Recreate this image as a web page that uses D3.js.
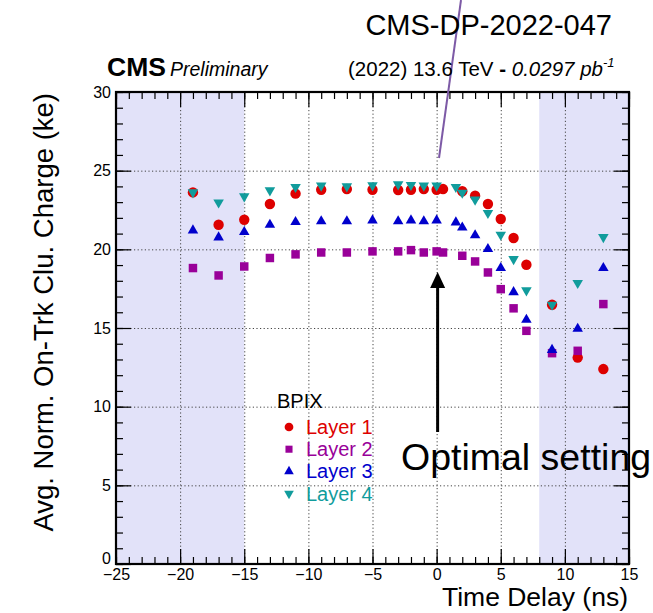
<!DOCTYPE html>
<html>
<head>
<meta charset="utf-8">
<script src="https://cdn.jsdelivr.net/npm/d3@7"></script>
<style>
  html, body { margin: 0; padding: 0; background: #fff; }
  svg { display: block; font-family: 'Liberation Sans', Arial, Helvetica, sans-serif; }
</style>
</head>
<body>
<div id="chart"></div>
<script>
// Timing scan, BPIX layers: average normalised on-track cluster charge vs delay
const delaysL12 = [-19, -17, -15, -13, -11, -9, -7, -5, -3, -2, -1, 0, 0.5, 2, 3, 4, 5, 6, 7, 9, 11, 13];
const delaysL34 = [-19, -17, -15, -13, -11, -9, -7, -5, -3, -2, -1, 0, 1.5, 2, 3, 4, 5, 6, 7, 9, 11, 13];

const layer1 = [23.62, 21.56, 21.88, 22.88, 23.54, 23.79, 23.83, 23.79, 23.77, 23.79, 23.83, 23.79, 23.83, 23.69, 23.41, 22.88, 21.93, 20.72, 19.02, 16.48, 13.12, 12.39];
const layer2 = [18.81, 18.34, 18.91, 19.45, 19.68, 19.80, 19.80, 19.87, 19.87, 19.95, 19.80, 19.87, 19.80, 19.59, 19.23, 18.53, 17.47, 16.25, 14.82, 13.40, 13.55, 16.52];
const layer3 = [21.20, 20.76, 21.10, 21.56, 21.74, 21.78, 21.78, 21.84, 21.78, 21.84, 21.78, 21.84, 21.71, 21.39, 20.89, 20.02, 18.81, 17.28, 15.52, 13.61, 14.95, 18.81];
const layer4 = [23.62, 22.98, 23.37, 23.75, 23.96, 24.05, 24.00, 24.07, 24.13, 24.09, 24.05, 24.05, 23.96, 23.60, 23.16, 22.31, 20.93, 19.38, 17.39, 16.48, 17.86, 20.78];

const layerNames = ['Layer 1', 'Layer 2', 'Layer 3', 'Layer 4'];
const layerColors = ['#dd0000', '#990099', '#0000cc', '#119c9c'];
const layerShapes = ['circle', 'square', 'triangle', 'triangleDown'];

const shadedBands = [[-25, -15], [8, 15]];
const xDomain = [-25, 15];
const yDomain = [0, 30];
const optimalDelay = 0;

(function () {
  'use strict';

  const W = 653, H = 613;
  const frame = { left: 116, right: 629, top: 92, bottom: 564 };

  const svg = d3.select('#chart').append('svg').attr('width', W).attr('height', H);

  const x = d3.scaleLinear().domain(xDomain).range([frame.left, frame.right]);
  const y = d3.scaleLinear().domain(yDomain).range([frame.bottom, frame.top]);

  // shaded (excluded) delay ranges
  svg.append('g').selectAll('rect').data(shadedBands).enter().append('rect')
    .attr('x', d => x(d[0])).attr('y', frame.top)
    .attr('width', d => x(d[1]) - x(d[0])).attr('height', frame.bottom - frame.top)
    .attr('fill', '#e2e2f9');

  // dotted grid
  const grid = svg.append('g').attr('stroke', '#444').attr('stroke-width', 1)
    .attr('stroke-dasharray', '1.2,2.4');
  grid.selectAll('.gx').data(d3.range(-20, 15, 5)).enter().append('line')
    .attr('x1', d => x(d) + 0.5).attr('x2', d => x(d) + 0.5)
    .attr('y1', frame.top).attr('y2', frame.bottom);
  grid.selectAll('.gy').data(d3.range(5, 30, 5)).enter().append('line')
    .attr('y1', d => y(d) + 0.5).attr('y2', d => y(d) + 0.5)
    .attr('x1', frame.left).attr('x2', frame.right);

  // axes: ticks point inwards on all four sides, ROOT style
  const fmt = d3.format('d');
  const majX = d3.range(-25, 16, 5), minX = d3.range(-25, 16, 1);
  const majY = d3.range(0, 31, 5), minY = d3.range(0, 31, 1);

  function styleAxis(g) {
    g.selectAll('.domain').remove();
    g.selectAll('line').attr('stroke', '#000').attr('stroke-width', 1.2);
    g.selectAll('text').attr('font-size', 16).attr('fill', '#000')
      .attr('font-family', "'Liberation Sans', Arial, sans-serif");
  }

  svg.append('g').attr('transform', `translate(0,${frame.bottom})`)
    .call(d3.axisBottom(x).tickValues(minX).tickSize(-7).tickFormat(''))
    .call(styleAxis);
  svg.append('g').attr('transform', `translate(0,${frame.bottom})`)
    .call(d3.axisBottom(x).tickValues(majX).tickSize(-15).tickPadding(5).tickFormat(fmt))
    .call(styleAxis);
  svg.append('g').attr('transform', `translate(0,${frame.top})`)
    .call(d3.axisTop(x).tickValues(minX).tickSize(-7).tickFormat(''))
    .call(styleAxis);
  svg.append('g').attr('transform', `translate(0,${frame.top})`)
    .call(d3.axisTop(x).tickValues(majX).tickSize(-15).tickFormat(''))
    .call(styleAxis);

  svg.append('g').attr('transform', `translate(${frame.left},0)`)
    .call(d3.axisLeft(y).tickValues(minY).tickSize(-7).tickFormat(''))
    .call(styleAxis);
  const yAx = svg.append('g').attr('transform', `translate(${frame.left},0)`)
    .call(d3.axisLeft(y).tickValues(majY).tickSize(-15).tickPadding(5).tickFormat(fmt))
    .call(styleAxis);
  // ROOT lifts the zero label a touch so it clears the x labels
  yAx.selectAll('.tick text').filter(d => d === 0).attr('dy', '-0.05em');
  svg.append('g').attr('transform', `translate(${frame.right},0)`)
    .call(d3.axisRight(y).tickValues(minY).tickSize(-7).tickFormat(''))
    .call(styleAxis);
  svg.append('g').attr('transform', `translate(${frame.right},0)`)
    .call(d3.axisRight(y).tickValues(majY).tickSize(-15).tickFormat(''))
    .call(styleAxis);

  // frame
  svg.append('rect')
    .attr('x', frame.left).attr('y', frame.top)
    .attr('width', frame.right - frame.left).attr('height', frame.bottom - frame.top)
    .attr('fill', 'none').attr('stroke', '#000').attr('stroke-width', 2.2);

  // markers
  const symbolFor = {
    circle: d3.symbol().type(d3.symbolCircle).size(85),
    square: d3.symbol().type(d3.symbolSquare).size(72),
    triangle: d3.symbol().type(d3.symbolTriangle).size(48),
    triangleDown: d3.symbol().type(d3.symbolTriangle).size(48)
  };
  const series = [
    { xs: delaysL12, ys: layer1 },
    { xs: delaysL12, ys: layer2 },
    { xs: delaysL34, ys: layer3 },
    { xs: delaysL34, ys: layer4 }
  ];
  series.forEach((s, k) => {
    const pts = s.xs.map((d, i) => ({ x: d, y: s.ys[i] }));
    const rot = layerShapes[k] === 'triangleDown' ? ' rotate(180)' : '';
    svg.append('g').selectAll('path').data(pts).enter().append('path')
      .attr('d', symbolFor[layerShapes[k]]())
      .attr('transform', d => `translate(${x(d.x)},${y(d.y)})${rot}`)
      .attr('fill', layerColors[k]);
  });

  // legend
  const leg = svg.append('g').attr('font-size', 20);
  leg.append('text').attr('x', 277).attr('y', 408).text('BPIX');
  layerNames.forEach((name, k) => {
    const cy = 427 + k * 22.2;
    const rot = layerShapes[k] === 'triangleDown' ? ' rotate(180)' : '';
    leg.append('path')
      .attr('d', d3.symbol().type(layerShapes[k] === 'circle' ? d3.symbolCircle
        : layerShapes[k] === 'square' ? d3.symbolSquare : d3.symbolTriangle)
        .size(layerShapes[k] === 'circle' ? 60 : layerShapes[k] === 'square' ? 50 : 40)())
      .attr('transform', `translate(289,${cy})${rot}`)
      .attr('fill', layerColors[k]);
    leg.append('text').attr('x', 306).attr('y', cy + 7).attr('fill', layerColors[k]).text(name);
  });

  // optimal setting arrow + label
  const ax = x(optimalDelay) + 1;
  svg.append('line').attr('x1', ax).attr('x2', ax).attr('y1', 432).attr('y2', 284)
    .attr('stroke', '#000').attr('stroke-width', 3);
  svg.append('path')
    .attr('d', `M${ax},272 L${ax - 7.5},288 L${ax + 7.5},288 Z`)
    .attr('fill', '#000');
  svg.append('text').attr('x', 401).attr('y', 470).attr('font-size', 37.5)
    .text('Optimal setting');

  // pointer line to the note id
  svg.append('line').attr('x1', 439).attr('y1', 158).attr('x2', 461).attr('y2', 0)
    .attr('stroke', '#7d5aa6').attr('stroke-width', 2);

  // header texts
  svg.append('text').attr('x', 612).attr('y', 35).attr('text-anchor', 'end')
    .attr('font-size', 29).text('CMS-DP-2022-047');
  svg.append('text').attr('x', 107).attr('y', 76).attr('font-size', 26.5)
    .attr('font-weight', 'bold').text('CMS');
  svg.append('text').attr('x', 170).attr('y', 76).attr('font-size', 19.5)
    .attr('font-style', 'italic').text('Preliminary');
  const lumi = svg.append('text').attr('x', 348).attr('y', 76).attr('font-size', 20.5);
  lumi.append('tspan').text('(2022) 13.6 TeV ');
  lumi.append('tspan').attr('font-weight', 'bold').text('- ');
  lumi.append('tspan').attr('font-style', 'italic').text('0.0297 pb');
  lumi.append('tspan').attr('font-style', 'italic').attr('font-size', 13).attr('dy', -9).text('-1');

  // axis titles
  svg.append('text').attr('transform', `translate(53,93) rotate(-90)`)
    .attr('text-anchor', 'end').attr('font-size', 27.5)
    .text('Avg. Norm. On-Trk Clu. Charge (ke)');
  svg.append('text').attr('x', 628).attr('y', 606).attr('text-anchor', 'end')
    .attr('font-size', 26.5).text('Time Delay (ns)');
})();
</script>
</body>
</html>
